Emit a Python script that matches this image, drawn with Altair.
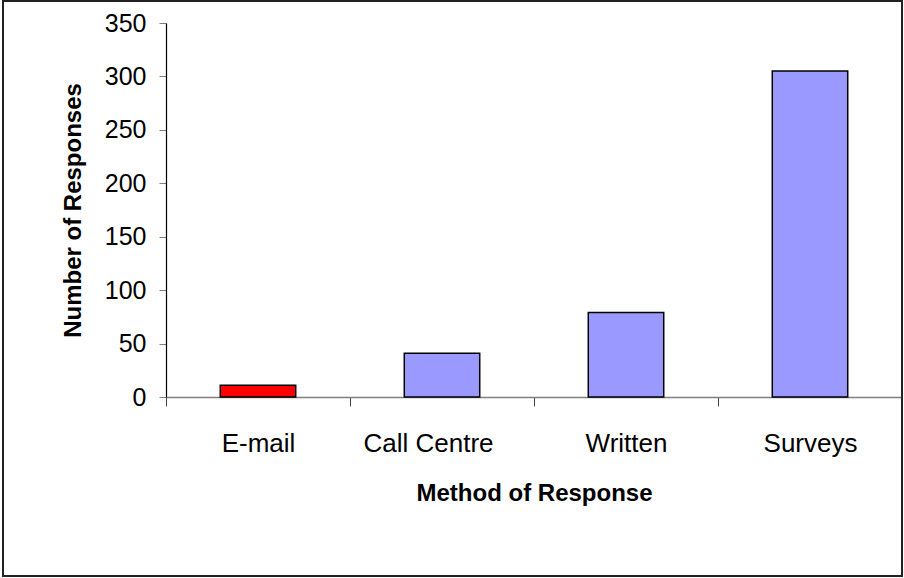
import altair as alt
import pandas as pd

# Responses by method
methods = ["E-mail", "Call Centre", "Written", "Surveys"]
responses = [11, 41, 79, 305]
bar_colors = ["#FF0000", "#9999FF", "#9999FF", "#9999FF"]

df = pd.DataFrame({"method": methods, "responses": responses, "color": bar_colors})

FONT = "Liberation Sans"

bars = alt.Chart(df).mark_bar(
    stroke="black", strokeWidth=1.5, width=alt.RelativeBandSize(0.41)
).encode(
    x=alt.X(
        "method:N",
        sort=methods,
        scale=alt.Scale(paddingInner=0, paddingOuter=0),
        axis=alt.Axis(
            title="Method of Response",
            labelAngle=0,
            labelFont=FONT,
            labelFontSize=26,
            labelColor="black",
            labelPadding=24,
            # the "Call Centre" label sits a little left of its band centre
            labelOffset={
                "condition": {"test": "datum.value === 'Call Centre'", "value": -14},
                "value": 0,
            },
            titleFont=FONT,
            titleFontSize=24,
            titleFontWeight="bold",
            titleColor="black",
            titlePadding=25,
            tickBand="extent",
            tickSize=9,
            tickColor="#444444",
            domainColor="#808080",
            domainWidth=1.5,
        ),
    ),
    y=alt.Y(
        "responses:Q",
        scale=alt.Scale(domain=[0, 350]),
        axis=alt.Axis(
            title="Number of Responses",
            values=[0, 50, 100, 150, 200, 250, 300, 350],
            grid=False,
            labelFont=FONT,
            labelFontSize=25,
            labelColor="black",
            labelPadding=13,
            titleFont=FONT,
            titleFontSize=24,
            titleFontWeight="bold",
            titleColor="black",
            titlePadding=19,
            tickSize=7,
            tickColor="#808080",
            domainColor="black",
            domainWidth=1.2,
        ),
    ),
    color=alt.Color("color:N", scale=None),
)

# Outer frame around the whole chart
frame = alt.Chart(df).mark_rect(
    fill=None, stroke="#222222", strokeWidth=2, clip=False
).encode(
    x=alt.value(-163),
    x2=alt.value(736),
    y=alt.value(-22),
    y2=alt.value(553),
)

chart = alt.layer(frame, bars).properties(
    width=736,
    height=374,
    autosize=alt.AutoSizeParams(type="none"),
    padding={"left": 166, "top": 23, "right": 2, "bottom": 181},
    background="white",
).configure_view(stroke=None)

chart.save("out.html", embed_options={"renderer": "svg", "actions": False})
